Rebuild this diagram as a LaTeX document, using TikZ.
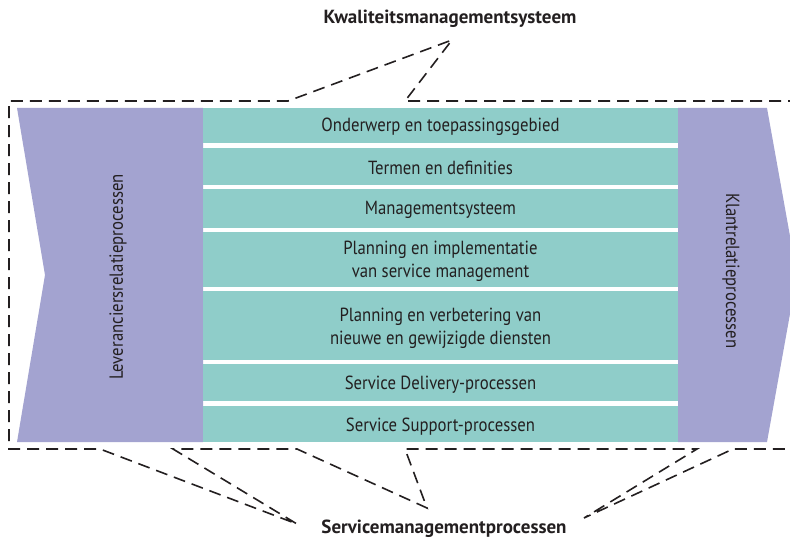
\documentclass[tikz,border=0pt]{standalone}
\usepackage{fontspec}
\setmainfont[FakeStretch=0.88]{PT Sans}
\newfontfamily\titlefont[FakeStretch=1.0]{PT Sans}
\definecolor{lila}{HTML}{A3A3D0}
\definecolor{teal2}{HTML}{8FCDC9}
\definecolor{ink}{HTML}{231F20}
\begin{document}
\begin{tikzpicture}[x=1pt,y=-1pt,
  rowbox/.style={fill=teal2, minimum width=475pt, inner sep=0pt},
  rowtext/.style={inner sep=0pt, text=ink, font=\fontsize{19}{23}\selectfont, align=center},
  sidelabel/.style={text=ink, font=\fontsize{19}{23}\selectfont},
  title/.style={text=ink, font=\titlefont\fontsize{19}{23}\selectfont\bfseries},
  callout/.style={draw=ink, line width=1.6pt, dash pattern=on 12pt off 7pt}]
\useasboundingbox (0,0) rectangle (790,540);
\clip (0,0) rectangle (790,540);
% side shapes
\fill[lila] (17,108) -- (203,108) -- (203,442) -- (17,442) -- (45,275) -- cycle;
\fill[lila] (678,108) -- (767,108) -- (797,275) -- (767,442) -- (678,442) -- cycle;
\node[sidelabel, rotate=90] (lev) at (118,277) {Leveranciersrelatieprocessen};
\node[sidelabel, rotate=-90] (kla) at (731,271) {Klantrelatieprocessen};
% rows
\node[rowbox, minimum height=35pt] (r1) at (440.5,125.5) {};
\node[rowbox, minimum height=37pt] (r2) at (440.5,166.5) {};
\node[rowbox, minimum height=39pt] (r3) at (440.5,208.5) {};
\node[rowbox, minimum height=55pt] (r4) at (440.5,259.5) {};
\node[rowbox, minimum height=69pt] (r5) at (440.5,325.5) {};
\node[rowbox, minimum height=37pt] (r6) at (440.5,382.5) {};
\node[rowbox, minimum height=36pt] (r7) at (440.5,424) {};
\node[rowtext] (t1) at ([yshift=-1.5pt]r1.center) {Onderwerp en toepassingsgebied};
\node[rowtext] (t2) at ([yshift=-1.5pt]r2.center) {Termen en definities};
\node[rowtext] (t3) at ([yshift=-1.5pt]r3.center) {Managementsysteem};
\node[rowtext] (t4) at ([yshift=-2pt]r4.center) {Planning en implementatie\\van service management};
\node[rowtext] (t5) at ([yshift=-2.5pt]r5.center) {Planning en verbetering van\\nieuwe en gewijzigde diensten};
\node[rowtext] (t6) at ([yshift=-2.5pt]r6.center) {Service Delivery-processen};
\node[rowtext] (t7) at ([yshift=-3pt]r7.center) {Service Support-processen};
% titles
\node[title] (kms) at (450,19) {Kwaliteitsmanagementsysteem};
\node[title] (smp) at (444,529) {Servicemanagementprocessen};
\coordinate (ktip) at (452,40);
\coordinate (s1) at (297,524);
\coordinate (s2) at (427,508);
\coordinate (s3) at (584,518);
% dashed callout outline
\draw[callout] (800,101) -- (405,101) -- (ktip) -- (288,101) -- (9,101) -- (9,449)
  -- (100,449) -- (s1) -- (173,449) -- (297,449) -- (s2) -- (405,449)
  -- (697,449) -- (s3) -- (733,449) -- (800,449);
\end{tikzpicture}
\end{document}
